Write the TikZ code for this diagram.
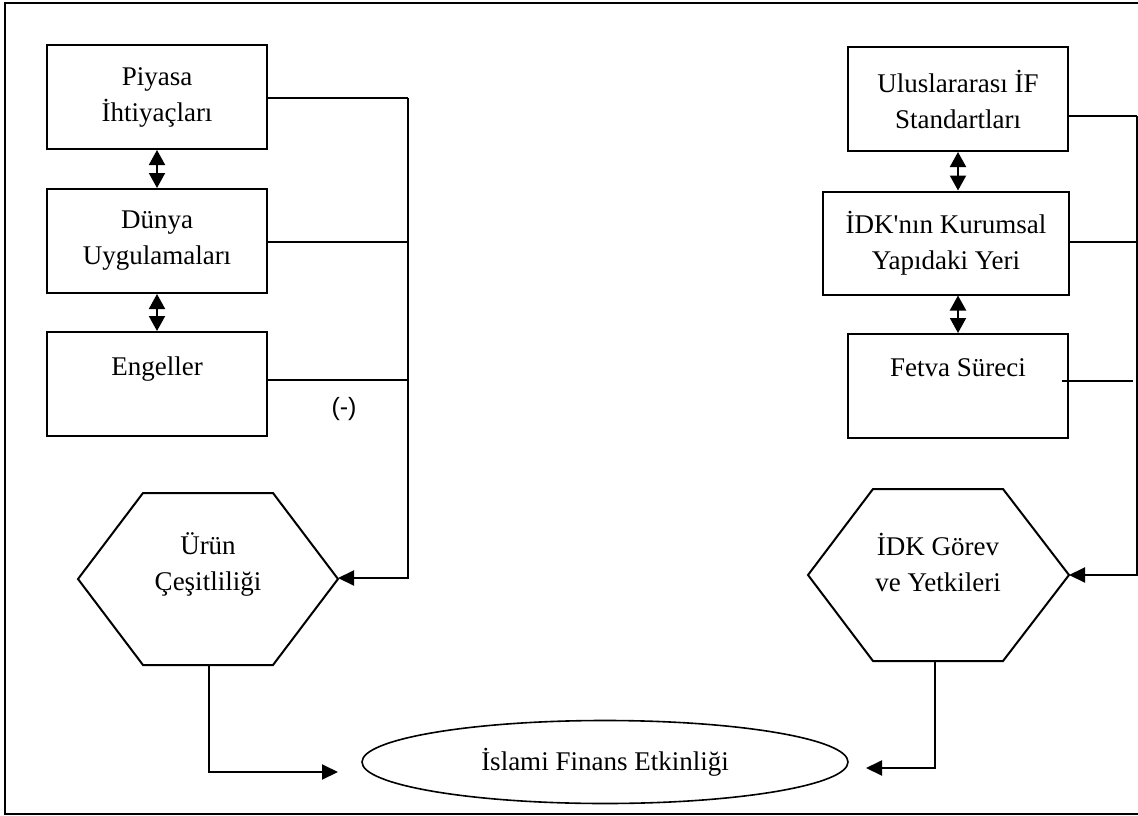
\documentclass[tikz,border=0pt]{standalone}
\usepackage{fontspec}
\setmainfont{Liberation Serif}
\newfontfamily\arialfont{Liberation Sans}
\usetikzlibrary{arrows.meta, positioning, shapes.geometric}

\begin{document}
\begin{tikzpicture}[x=1pt, y=-1pt,
    box/.style={draw, line width=2pt, align=center, inner sep=0pt,
      minimum width=220pt, minimum height=104pt, font=\fontsize{27}{36}\selectfont},
    hexline/.style={draw, line width=2pt, line join=miter},
    txt/.style={align=center, font=\fontsize{27}{36}\selectfont},
    link/.style={line width=2pt},
    arr/.style={line width=2pt, -{Triangle[length=16pt,width=15pt]}},
    dblarr/.style={line width=2pt, {Triangle[length=15pt,width=16pt]}-{Triangle[length=15pt,width=16pt]}}]
  \useasboundingbox (0,0) rectangle (1138,816);
  % outer frame
  \draw[line width=1.6pt] (5,3) rectangle (1142,814);

  % left column boxes
  \node[box] (piyasa) at (157,97) {Piyasa\\İhtiyaçları};
  \node[box] (dunya) at (157,241) {Dünya\\Uygulamaları};
  \node[box] (engel) at (157,384) {Engeller\\\mbox{}};
  \draw[dblarr] (piyasa.south) -- (dunya.north);
  \draw[dblarr] (dunya.south) -- (engel.north);

  % right column boxes
  \node[box] (ulus) at (958,99) {Uluslararası İF\\Standartları};
  \node[box, minimum width=246pt, minimum height=103pt] (idkyer) at (946,243) {İDK\textquotesingle nın Kurumsal\\Yapıdaki Yeri};
  \node[box] (fetva) at (958,386) {Fetva Süreci\\\mbox{}};
  \draw[dblarr] (ulus.south) -- (idkyer.north -| ulus.south);
  \draw[dblarr] (idkyer.south -| fetva.north) -- (fetva.north);

  % hexagons
  \draw[hexline] (78,579) -- (143,493) -- (273,493) -- (338,579) -- (273,665) -- (143,665) -- cycle;
  \node[txt] (urun) at (208,564) {Ürün\\Çeşitliliği};
  \coordinate (urunE) at (338,578);
  \coordinate (urunS) at (209,665);
  \draw[hexline] (808,575) -- (873,489) -- (1003,489) -- (1069,575) -- (1003,661) -- (873,661) -- cycle;
  \node[txt] (idkgorev) at (938,562) {İDK Görev\\ve Yetkileri};
  \coordinate (idkE) at (1069,575);
  \coordinate (idkS) at (935,661);

  % central ellipse
  \node[draw, ellipse, line width=1.6pt, minimum width=486pt, minimum height=83pt, inner sep=0pt,
    font=\fontsize{27}{36}\selectfont] (ife) at (605,762) {İslami Finans Etkinliği};
  \coordinate (ifeL) at (338,772);
  \coordinate (ifeR) at (866,768);

  % left connectors
  \coordinate (lbus) at (408,98);
  \draw[link] (piyasa.east |- lbus) -- (lbus);
  \draw[link] (dunya.east |- 0,242) -- (408,242);
  \draw[link] (engel.east |- 0,380) -- (408,380);
  \draw[arr] (lbus) -- (408,578) -- (urunE);
  \node[font=\arialfont\fontsize{25}{30}\selectfont] (minus) at (344,409) {(-)};
  \draw[arr] (urunS) |- (ifeL);

  % right connectors
  \coordinate (rbus) at (1137,116);
  \draw[link] (ulus.east |- rbus) -- (rbus);
  \draw[link] (idkyer.east |- 0,242) -- (1137,242);
  \draw[link] (1062,381) -- (1133,381);
  \draw[arr] (rbus) -- (1137,575) -- (idkE);
  \draw[arr] (idkS) |- (ifeR);
\end{tikzpicture}
\end{document}
